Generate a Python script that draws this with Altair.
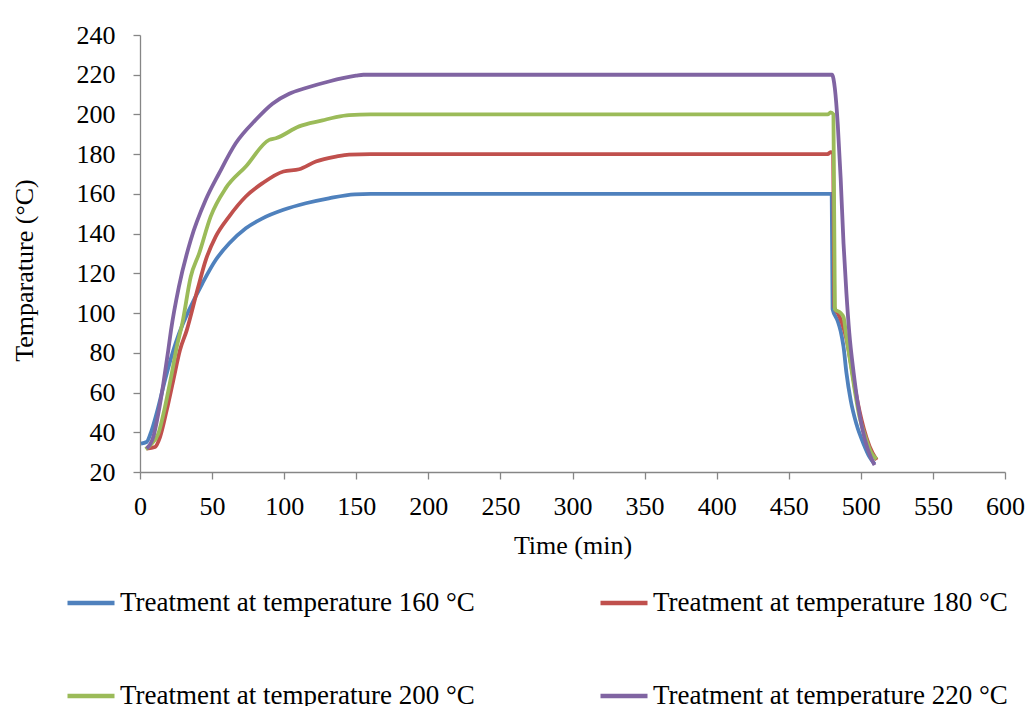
import altair as alt
import pandas as pd

labels = ["Treatment at temperature 160 °C", "Treatment at temperature 180 °C",
          "Treatment at temperature 200 °C", "Treatment at temperature 220 °C"]
colors = ["#4F81BD", "#C0504D", "#9BBB59", "#8064A2"]

t160 = [0.7, 4.6, 8.1, 12.7, 17.3, 24.8, 29.4, 34, 43.3, 52.5, 61.8, 73.4, 85, 99.5, 115, 131, 149, 160, 300, 479.8,
        480.4, 484, 486, 488, 490, 493, 497, 502, 506, 509.5]
v160 = [34.3, 35.1, 41, 52.7, 66.2, 85, 94, 101.5, 115, 126.7, 135, 142.7, 147.7, 152, 155.3, 157.8, 159.8, 160, 160, 160,
        102, 96, 91, 83, 70, 56, 44, 34, 27.6, 24]

t180 = [4.6, 10.4, 13.9, 18.5, 23.1, 27.7, 32.4, 39.8, 45.6, 52.5, 61.8, 73.4, 85, 99.5, 110.4, 122, 135.9, 145, 160, 300, 477,
        479, 480.8, 481.6, 484, 487, 490, 493, 496, 499, 502, 506, 511]
v180 = [31.8, 32.6, 37.6, 51, 66.2, 81.3, 91.3, 111.6, 126.7, 138.5, 148.6, 158.7, 165.4, 171.3, 172.4, 176.3, 178.8, 179.8, 180, 180, 180,
        181, 180.5, 103, 100, 95, 87, 75, 62, 51, 42, 33, 26]

t200 = [3.9, 6.9, 12.7, 17.3, 22, 25.5, 29.4, 35.2, 41, 49, 59.5, 73.4, 89.6, 94.2, 110.4, 126.6, 135.9, 145, 160, 300, 477,
        479, 481, 482, 486, 488, 490, 493, 496, 499, 503, 507, 511]
v200 = [31.5, 33.4, 39.3, 52.7, 69.5, 83, 95, 118.3, 130, 148.6, 162.9, 173.8, 187.2, 188, 194, 197, 198.7, 199.7, 200, 200, 200,
        201, 200, 102, 100, 98, 88, 74, 60, 48, 38, 30, 26.5]

t220 = [4.6, 9.2, 12.7, 16.2, 19.6, 21.5, 27, 35.2, 45.6, 54.9, 66.4, 80.3, 91.9, 103.5, 115, 131, 149.8, 155, 300, 480,
        482, 484, 486, 488, 490, 492, 495, 498, 501, 505, 509.5]
v220 = [31.8, 37.6, 49.4, 64.5, 81.3, 91.3, 113.3, 136.8, 157, 170.4, 185.5, 197.3, 205.4, 210.4, 213.3, 216.6, 219.5, 220, 220, 220,
        213, 195, 168, 135, 110, 90, 70, 54, 42, 31, 23.5]

x_ticks = list(range(0, 601, 50))
y_ticks = list(range(20, 241, 20))

rows = []
for lab, ts, vs in zip(labels, [t160, t180, t200, t220], [v160, v180, v200, v220]):
    for i, (t, v) in enumerate(zip(ts, vs)):
        rows.append({"series": lab, "time": t, "temp": v, "idx": i})
df = pd.DataFrame(rows)

FONT = "Liberation Serif"

chart = alt.Chart(df).mark_line(strokeWidth=3.8, interpolate="monotone").encode(
    x=alt.X("time:Q", scale=alt.Scale(domain=[0, 600], nice=False),
            axis=alt.Axis(values=x_ticks, title="Time (min)", labelPadding=14, labelFlush=False,
                          titleX=432.5, titleY=81, titleBaseline="alphabetic")),
    y=alt.Y("temp:Q", scale=alt.Scale(domain=[20, 240], nice=False, zero=False),
            axis=alt.Axis(values=y_ticks, title="Temparature (°C)", labelPadding=18, labelFlush=False,
                          titleX=-108, titleY=235, titleBaseline="alphabetic")),
    color=alt.Color("series:N", scale=alt.Scale(domain=labels, range=colors),
                    legend=alt.Legend(title=None, orient="none", legendX=-75, legendY=542,
                                      direction="horizontal",
                                      columns=2, symbolType="stroke", symbolSize=2209,
                                      symbolStrokeWidth=4.5, labelFontSize=27, labelFont=FONT,
                                      labelOffset=3, columnPadding=116, rowPadding=54,
                                      labelLimit=600, padding=0, labelColor="black")),
    order="idx:Q",
).properties(
    width=865, height=437,
    autosize=alt.AutoSizeParams(type="none"),
    padding={"left": 140, "top": 35, "right": 22, "bottom": 234},
).configure_view(stroke=None).configure_axis(
    grid=False, domainColor="#868686", tickColor="#868686", tickSize=7,
    labelFont=FONT, labelFontSize=26, labelColor="black",
    titleFont=FONT, titleFontSize=26, titleFontWeight="normal", titleColor="black",
    domainWidth=1.3, tickWidth=1.3,
)

chart.save("out.html", embed_options={"renderer": "svg", "actions": False})
